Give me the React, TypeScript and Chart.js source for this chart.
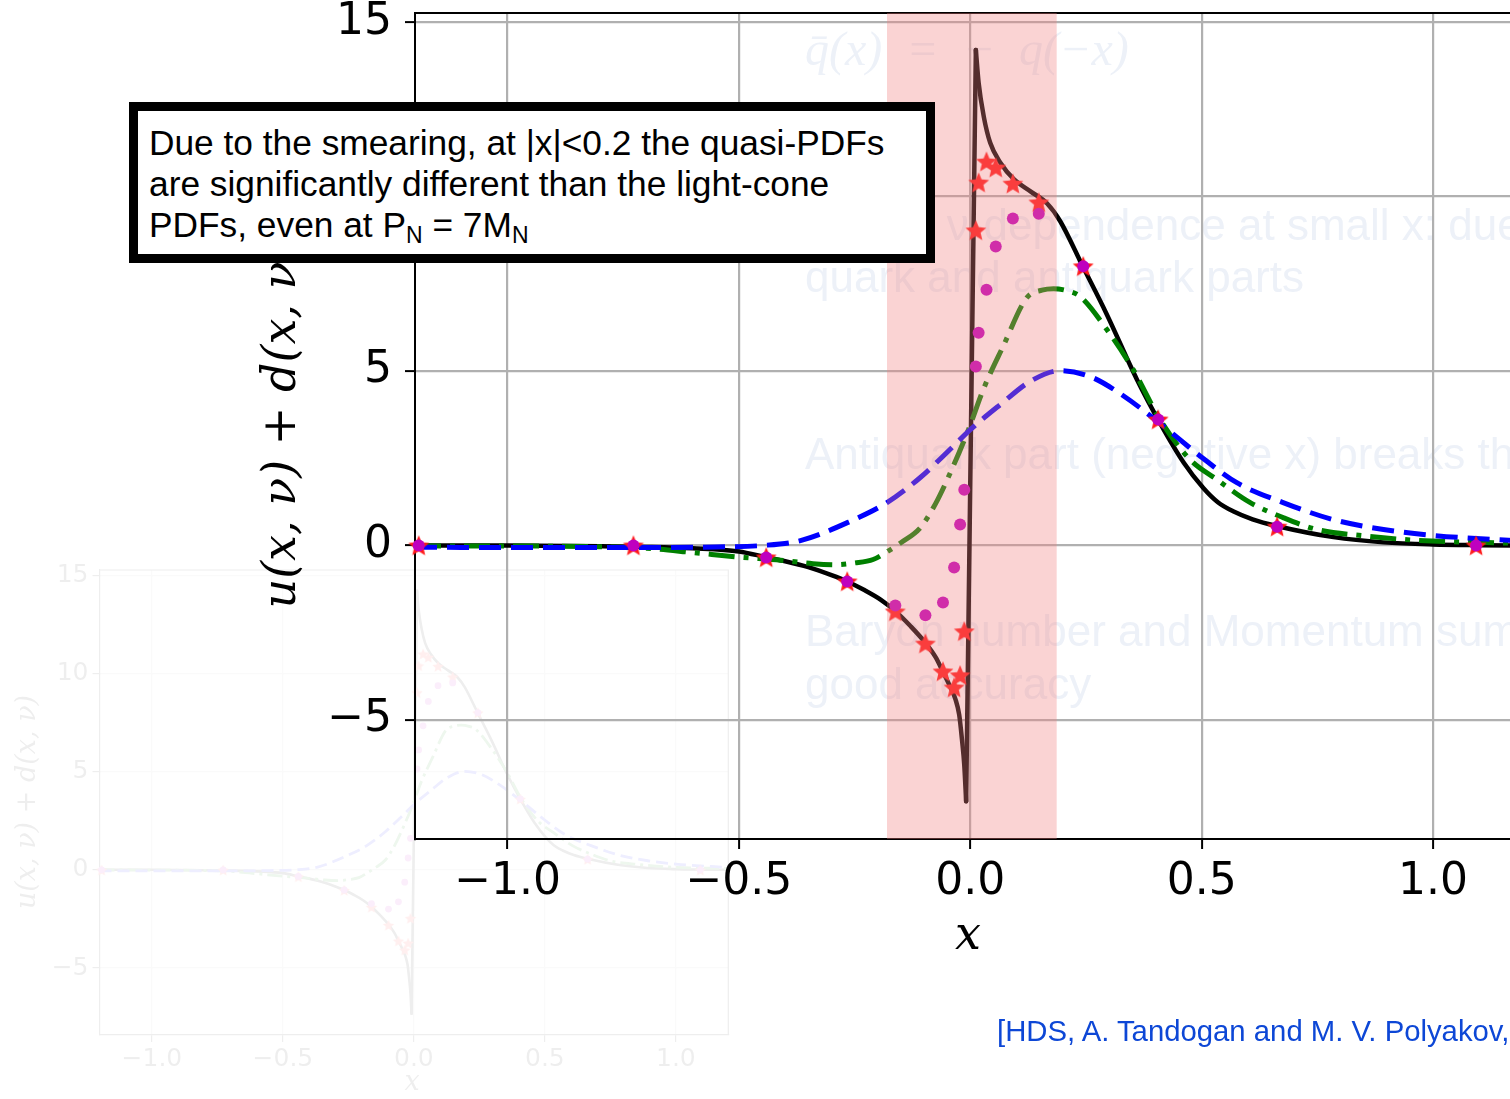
import React, { useEffect, useRef } from 'react';
import { Chart, registerables } from 'chart.js';
Chart.register(...registerables);

// ---------- data ----------
const xTickValues = [-1.0, -0.5, 0.0, 0.5, 1.0];
const yTickValues = [-5, 0, 5, 10, 15];
const xLimits = [-1.2, 1.2];
const yLimits = [-8.41, 15.26];
const bandRange = [-0.18, 0.187];

// light-cone PDF (solid black): negative branch, jump, positive branch
const lcNegX = [-1.2, -1.0, -0.8, -0.7, -0.6, -0.5, -0.44, -0.4, -0.35, -0.3, -0.266, -0.23, -0.194, -0.162, -0.13, -0.097, -0.075, -0.058, -0.045, -0.032, -0.024, -0.018, -0.013, -0.009];
const lcNegY = [0.0, 0.0, -0.02, -0.04, -0.08, -0.17, -0.34, -0.45, -0.62, -0.85, -1.03, -1.27, -1.55, -1.88, -2.3, -2.79, -3.2, -3.65, -4.0, -4.41, -4.85, -5.56, -6.3, -7.33];
const lcJumpX = [-0.009, 0.012];
const lcJumpY = [-7.33, 14.2];
const lcPosX = [0.012, 0.018, 0.029, 0.043, 0.065, 0.094, 0.13, 0.166, 0.194, 0.243, 0.294, 0.36, 0.41, 0.461, 0.504, 0.535, 0.568, 0.61, 0.662, 0.785, 0.893, 1.0, 1.1, 1.2];
const lcPosY = [14.2, 13.26, 12.3, 11.54, 10.97, 10.5, 10.15, 9.8, 9.3, 8.0, 6.65, 4.76, 3.51, 2.38, 1.64, 1.24, 0.98, 0.75, 0.56, 0.24, 0.09, 0.03, 0.01, 0.0];

// green dash-dot curve
const greenX = [-1.2, -0.9, -0.7, -0.6, -0.5, -0.41, -0.34, -0.29, -0.25, -0.21, -0.18, -0.15, -0.108, -0.075, -0.043, -0.004, 0.028, 0.071, 0.122, 0.155, 0.18, 0.21, 0.237, 0.295, 0.352, 0.41, 0.475, 0.533, 0.605, 0.676, 0.749, 0.857, 0.965, 1.2];
const greenY = [-0.01, -0.02, -0.08, -0.2, -0.33, -0.42, -0.52, -0.55, -0.5, -0.4, -0.18, 0.08, 0.51, 1.2, 2.09, 3.32, 4.47, 5.71, 7.1, 7.32, 7.36, 7.3, 7.14, 6.19, 5.04, 3.61, 2.46, 1.89, 1.23, 0.8, 0.46, 0.27, 0.15, 0.06];

// blue dashed curve
const blueX = [-1.2, -0.9, -0.7, -0.55, -0.45, -0.367, -0.26, -0.18, -0.108, -0.044, 0.0, 0.065, 0.129, 0.194, 0.259, 0.323, 0.41, 0.497, 0.576, 0.676, 0.785, 0.893, 1.0, 1.2];
const blueY = [-0.05, -0.06, -0.06, -0.04, 0.0, 0.14, 0.69, 1.23, 1.95, 2.75, 3.32, 4.04, 4.7, 5.01, 4.84, 4.36, 3.5, 2.56, 1.8, 1.23, 0.74, 0.46, 0.29, 0.12];

// markers
const pointX = [-1.192, -0.728, -0.441, -0.266, -0.162, -0.097, -0.059, -0.035, -0.022, -0.013, 0.012, 0.018, 0.035, 0.055, 0.092, 0.148, 0.244, 0.406, 0.663, 1.093];
const starY = [0.0, 0.0, -0.34, -1.03, -1.89, -2.81, -3.61, -4.07, -3.72, -2.46, 9.03, 10.4, 11.0, 10.83, 10.37, 9.83, 8.0, 3.61, 0.54, 0.0];
const dotY = [0.0, 0.0, -0.34, -1.03, -1.72, -2.0, -1.63, -0.63, 0.6, 1.6, 5.13, 6.1, 7.33, 8.57, 9.37, 9.51, 8.0, 3.61, 0.54, 0.0];

const yTitle = 'u(x, \u03bd) + d(x, \u03bd)';
const xTitle = 'x';

// ---------- helpers ----------
const pts = (xs: number[], ys: number[]) => xs.map((x, i) => ({ x, y: ys[i] }));
const fmtX = (v: number) => (v < 0 ? '\u2212' : '') + Math.abs(v).toFixed(1);
const fmtY = (v: number) => (v < 0 ? '\u2212' : '') + Math.abs(v).toFixed(0);

function makeStar(r: number, color: string) {
  const s = Math.ceil(r * 2 + 2);
  const c = document.createElement('canvas');
  c.width = s;
  c.height = s;
  const ctx = c.getContext('2d')!;
  ctx.beginPath();
  for (let i = 0; i < 10; i++) {
    const rad = i % 2 === 0 ? r : r * 0.45;
    const a = -Math.PI / 2 + (i * Math.PI) / 5;
    ctx.lineTo(s / 2 + rad * Math.cos(a), s / 2 + 0.8 + rad * Math.sin(a));
  }
  ctx.closePath();
  ctx.fillStyle = color;
  ctx.fill();
  return c;
}

type Look = {
  lw: number; lw2: number; dash: number[]; dashDot: number[]; starR: number; dotR: number;
  tickFont: number; tickLen: number; padX: number; padY: number; gridW: number; borderW: number;
  band: boolean; top: number; right: number; xH: number; yW: number;
  titles: { text: string; x: number; y: number; rot: number; size: number }[];
};

const framePlugin = {
  id: 'frame',
  beforeDatasetsDraw(chart: any, _a: any, opts: any) {
    const { ctx, chartArea: a } = chart;
    ctx.save();
    ctx.strokeStyle = '#000';
    ctx.lineWidth = opts.width;
    ctx.beginPath();
    ctx.moveTo(a.left, a.top);
    ctx.lineTo(a.right, a.top);
    ctx.lineTo(a.right, a.bottom);
    ctx.stroke();
    ctx.restore();
  },
  afterDraw(chart: any, _a: any, opts: any) {
    const { ctx } = chart;
    (opts.titles || []).forEach((t: any) => {
      ctx.save();
      ctx.translate(t.x, t.y);
      ctx.rotate(t.rot);
      ctx.font = `italic ${t.size}px "DejaVu Serif"`;
      ctx.fillStyle = '#000';
      ctx.textAlign = 'center';
      ctx.textBaseline = 'middle';
      ctx.fillText(t.text, 0, 0);
      ctx.restore();
    });
  },
};

function buildDatasets(look: Look) {
  const star = makeStar(look.starR, '#ff1a1a');
  const line = (xs: number[], ys: number[], color: string, width: number, dash: number[], order: number, mono = true) => ({
    data: pts(xs, ys),
    showLine: true,
    borderColor: color,
    backgroundColor: color,
    borderWidth: width,
    borderDash: dash,
    pointRadius: 0,
    pointHoverRadius: 0,
    fill: false,
    cubicInterpolationMode: mono ? 'monotone' : 'default',
    tension: 0,
    order,
    borderCapStyle: dash.length ? 'butt' : 'round',
    borderJoinStyle: 'round',
  });
  const ds: any[] = [
    line(lcNegX, lcNegY, '#000000', look.lw, [], 12),
    line(lcJumpX, lcJumpY, '#000000', look.lw, [], 11, false),
    line(lcPosX, lcPosY, '#000000', look.lw, [], 10),
    line(greenX, greenY, '#008000', look.lw2, look.dashDot, 9),
    line(blueX, blueY, '#0000ff', look.lw2, look.dash, 8),
    {
      data: pts(pointX, starY), showLine: false, pointStyle: star, pointRadius: look.starR,
      pointHoverRadius: look.starR, order: 7, clip: false,
    },
    {
      data: pts(pointX, dotY), showLine: false, pointStyle: 'circle', pointRadius: look.dotR,
      pointHoverRadius: look.dotR, backgroundColor: '#bf00bf', borderColor: '#bf00bf', borderWidth: 0, order: 6, clip: false,
    },
  ];
  if (look.band) {
    ds.push({
      data: [{ x: bandRange[0], y: yLimits[1] }, { x: bandRange[1], y: yLimits[1] }],
      showLine: true, borderWidth: 0, borderColor: 'rgba(0,0,0,0)', pointRadius: 0, pointHoverRadius: 0,
      fill: 'start', backgroundColor: 'rgba(240,128,128,0.35)', tension: 0, order: 5,
    });
  }
  return ds;
}

function buildConfig(look: Look): any {
  const tickFont = { family: 'DejaVu Sans', size: look.tickFont };
  const grid = {
    color: '#b0b0b0', lineWidth: look.gridW, drawTicks: true, tickLength: look.tickLen,
    tickColor: '#000', tickWidth: look.borderW,
  };
  const border = { display: true, color: '#000', width: look.borderW };
  return {
    type: 'scatter',
    data: { datasets: buildDatasets(look) },
    options: {
      animation: false,
      responsive: false,
      events: [],
      layout: { padding: { left: 0, top: look.top, right: look.right, bottom: 0 } },
      plugins: {
        legend: { display: false },
        tooltip: { enabled: false },
        frame: { width: look.borderW, titles: look.titles },
      },
      scales: {
        x: {
          type: 'linear', min: xLimits[0], max: xLimits[1],
          afterFit: (s: any) => { s.height = look.xH; s.paddingLeft = 0; s.paddingRight = 0; },
          afterBuildTicks: (s: any) => { s.ticks = xTickValues.map((v) => ({ value: v })); },
          ticks: { font: tickFont, color: '#000', padding: look.padX, autoSkip: false, maxRotation: 0, callback: (v: any) => fmtX(Number(v)) },
          grid, border,
        },
        y: {
          type: 'linear', min: yLimits[0], max: yLimits[1],
          afterFit: (s: any) => { s.width = look.yW; s.paddingTop = 0; s.paddingBottom = 0; },
          afterBuildTicks: (s: any) => { s.ticks = yTickValues.map((v) => ({ value: v })); },
          ticks: { font: tickFont, color: '#000', padding: look.padY, autoSkip: false, callback: (v: any) => fmtY(Number(v)) },
          grid, border,
        },
      },
    },
    plugins: [framePlugin],
  };
}

const MAIN_W = 1540;
const H = 1099;

const mainLook: Look = {
  lw: 4.5, lw2: 5, dash: [22, 10], dashDot: [26, 9, 5, 9], starR: 11, dotR: 6,
  tickFont: 44, tickLen: 10, padX: 7, padY: 13, gridW: 2.2, borderW: 2,
  band: true, top: 13, right: MAIN_W - 1525.6, xH: H - 839, yW: 415,
  titles: [
    { text: xTitle, x: 968, y: 937, rot: 0, size: 46 },
    { text: yTitle, x: 283, y: 426, rot: -Math.PI / 2, size: 46 },
  ],
};

const faintLook: Look = {
  lw: 2.6, lw2: 2.8, dash: [12, 6], dashDot: [15, 5, 3, 5], starR: 6, dotR: 3.4,
  tickFont: 25, tickLen: 7, padX: 2, padY: 4, gridW: 1.2, borderW: 1.2,
  band: false, top: 570, right: 1510 - 728.3, xH: H - 1035, yW: 99.5,
  titles: [
    { text: xTitle, x: 412, y: 1083, rot: 0, size: 27 },
    { text: yTitle, x: 28, y: 802, rot: -Math.PI / 2, size: 27 },
  ],
};

const fadedText = '#edf1f8';
const sansLine = (text: string, left: number, baseline: number) => (
  <div
    style={{
      position: 'absolute', left, top: baseline - 41.7, fontFamily: '"Liberation Sans", Arial, sans-serif',
      fontSize: 44, lineHeight: '52.8px', color: fadedText, whiteSpace: 'nowrap',
    }}
  >
    {text}
  </div>
);

export default function App() {
  const mainRef = useRef<HTMLCanvasElement>(null);
  const faintRef = useRef<HTMLCanvasElement>(null);

  useEffect(() => {
    const charts: Chart[] = [];
    if (faintRef.current) charts.push(new Chart(faintRef.current, buildConfig(faintLook)));
    if (mainRef.current) charts.push(new Chart(mainRef.current, buildConfig(mainLook)));
    return () => charts.forEach((c) => c.destroy());
  }, []);

  const sub = (t: string) => (
    <span style={{ fontSize: 23, position: 'relative', top: 6 }}>{t}</span>
  );

  return (
    <div style={{ position: 'fixed', left: 0, top: 0, width: 1510, height: H, overflow: 'hidden', background: '#fff' }}>
      <canvas ref={faintRef} width={1510} height={H} style={{ position: 'absolute', left: 0, top: 0, width: 1510, height: H, opacity: 0.07 }} />
      <div
        style={{
          position: 'absolute', left: 805, top: 20.4, fontFamily: '"Liberation Serif", serif', fontStyle: 'italic',
          fontSize: 48, lineHeight: '57.6px', color: fadedText, whiteSpace: 'pre', wordSpacing: 12,
        }}
      >
        {'q\u0304(x) = \u2212 q(\u2212x)'}
      </div>
      {sansLine('Strong \u03bd-dependence at small x: due to', 805, 241)}
      {sansLine('quark and antiquark parts', 805, 293)}
      {sansLine('Antiquark part (negative x) breaks the', 805, 470)}
      {sansLine('Baryon number and Momentum sum rules', 805, 647)}
      {sansLine('good accuracy', 805, 700)}
      <canvas ref={mainRef} width={MAIN_W} height={H} style={{ position: 'absolute', left: 0, top: 0, width: MAIN_W, height: H }} />
      <div
        style={{
          position: 'absolute', left: 129, top: 102, width: 806, height: 161, boxSizing: 'border-box',
          border: '9px solid #000', background: '#fff', padding: '11px 0 0 11px',
          fontFamily: '"Liberation Sans", Arial, sans-serif', fontSize: 35.3, lineHeight: '41px', color: '#000', whiteSpace: 'nowrap',
        }}
      >
        Due to the smearing, at |x|&lt;0.2 the quasi-PDFs
        <br />
        are significantly different than the light-cone
        <br />
        PDFs, even at P{sub('N')} = 7M{sub('N')}
      </div>
      <div
        style={{
          position: 'absolute', left: 997, top: 1013, fontFamily: '"Liberation Sans", Arial, sans-serif',
          fontSize: 29.3, lineHeight: '35px', color: '#0d47d6', whiteSpace: 'nowrap',
        }}
      >
        [HDS, A. Tandogan and M. V. Polyakov,
      </div>
    </div>
  );
}
